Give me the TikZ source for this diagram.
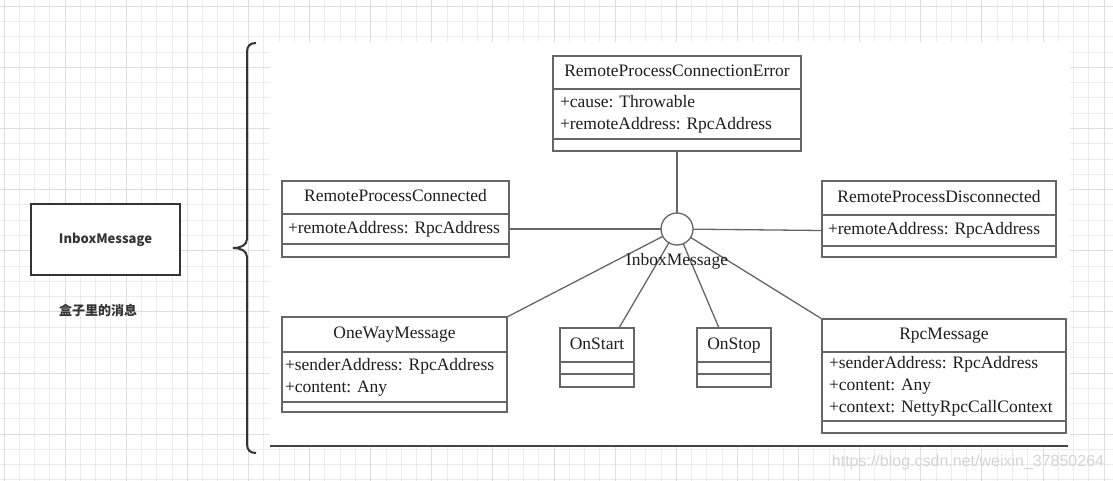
\documentclass[tikz,border=0pt]{standalone}
\usepackage{fontspec}
\setmainfont{Liberation Serif}
\newfontfamily\cjk{Noto Sans CJK SC}
\newfontfamily\markfont{Liberation Sans}
\usepackage{tikz}
\newcommand{\umlfont}{\fontsize{17.5}{22}\selectfont\frenchspacing\hyphenpenalty=10000 }

\begin{document}
\begin{tikzpicture}[x=1pt,y=1pt,yscale=-1,xscale=1,
  gridline/.style={color={rgb, 255:red, 236; green, 236; blue, 236}, line width=1},
  gridmajor/.style={color={rgb, 255:red, 222; green, 222; blue, 222}, line width=1},
  umlline/.style={color={rgb, 255:red, 102; green, 102; blue, 102}, line width=1.3},
  classhead/.style={draw={rgb, 255:red, 102; green, 102; blue, 102}, line width=1.3, fill=white, outer sep=0pt, inner sep=0pt, anchor=north west, text={rgb, 255:red, 30; green, 30; blue, 30}, font=\umlfont},
  classtitle/.style={classhead, text height=12.5pt, text depth=4pt},
  classattr/.style={classhead, align=left, inner xsep=7pt}
  ]
\useasboundingbox (0,0) rectangle (1113,481);

%Grid
\foreach \i in {0,...,72} \draw [gridline] (4+15.28*\i,0) -- (4+15.28*\i,481) ;
\foreach \i in {0,...,31} \draw [gridline] (0,6.3+15.28*\i) -- (1113,6.3+15.28*\i) ;
\foreach \i in {0,4,...,72} \draw [gridmajor] (4+15.28*\i,0) -- (4+15.28*\i,481) ;
\foreach \i in {0,4,...,28} \draw [gridmajor] (0,6.3+15.28*\i) -- (1113,6.3+15.28*\i) ;

%White sheet
\fill [white] (270,42) rectangle (1070,446) ;
\draw [color={rgb, 255:red, 68; green, 68; blue, 68}, line width=2] (270,446) -- (1068,446) ;

%Brace
\draw [color={rgb, 255:red, 51; green, 51; blue, 51}, line width=2] (256,43) .. controls (250,43) and (247,46) .. (247,52) -- (247,239) .. controls (247,245) and (241,248) .. (233,248) .. controls (241,248) and (247,251) .. (247,257) -- (247,444) .. controls (247,450) and (250,453) .. (256,453) ;

%Left box
\node [draw={rgb, 255:red, 51; green, 51; blue, 51}, line width=2, fill=white, minimum width=149pt, minimum height=71pt, inner sep=0pt, font=\cjk\bfseries\fontsize{13}{15}\selectfont, text={rgb, 255:red, 51; green, 51; blue, 51}] (inbox) at (105.5,239.5) {InboxMessage};
\node [font=\cjk\bfseries\fontsize{13}{15}\selectfont, text={rgb, 255:red, 51; green, 51; blue, 51}] (inboxnote) at (98,310) {盒子里的消息};

%Class RemoteProcessConnectionError
\node [classtitle, minimum width=248pt, minimum height=33pt] (errH) at (553,56) {RemoteProcessConnectionError};
\node [classattr, text width=234pt, minimum height=50pt] (errA) at (errH.south west) {+cause: Throwable\\+remoteAddress: RpcAddress};
\node [classhead, minimum width=248pt, minimum height=12pt] (errO) at (errA.south west) {};

%Class RemoteProcessConnected
\node [classtitle, minimum width=227pt, minimum height=33pt] (connH) at (282,181) {RemoteProcessConnected};
\node [classattr, inner xsep=6pt, text width=215pt, minimum height=30pt] (connA) at (connH.south west) {+remoteAddress: RpcAddress};
\node [classhead, minimum width=227pt, minimum height=13pt] (connO) at (connA.south west) {};

%Class RemoteProcessDisconnected
\node [classtitle, minimum width=234pt, minimum height=34pt] (discH) at (822,181) {RemoteProcessDisconnected};
\node [classattr, inner xsep=6pt, text width=222pt, minimum height=31pt] (discA) at (discH.south west) {+remoteAddress: RpcAddress};
\node [classhead, minimum width=234pt, minimum height=11pt] (discO) at (discA.south west) {};

%Class OneWayMessage
\node [classtitle, minimum width=225pt, minimum height=35pt] (oneH) at (282,317) {OneWayMessage};
\node [classattr, inner xsep=3pt, text width=219pt, minimum height=50pt] (oneA) at (oneH.south west) {+senderAddress: RpcAddress\\+content: Any};
\node [classhead, minimum width=225pt, minimum height=10pt] (oneO) at (oneA.south west) {};

%Class OnStart
\node [classtitle, minimum width=74pt, minimum height=34pt] (startH) at (560,328) {OnStart};
\node [classhead, minimum width=74pt, minimum height=12pt] (startA) at (startH.south west) {};
\node [classhead, minimum width=74pt, minimum height=13pt] (startO) at (startA.south west) {};

%Class OnStop
\node [classtitle, minimum width=74pt, minimum height=34pt] (stopH) at (697,328) {OnStop};
\node [classhead, minimum width=74pt, minimum height=12pt] (stopA) at (stopH.south west) {};
\node [classhead, minimum width=74pt, minimum height=13pt] (stopO) at (stopA.south west) {};

%Class RpcMessage
\node [classtitle, minimum width=244pt, minimum height=33pt] (rpcH) at (822,319) {RpcMessage};
\node [classattr, text width=230pt, minimum height=69pt] (rpcA) at (rpcH.south west) {+senderAddress: RpcAddress\\+content: Any\\+context: NettyRpcCallContext};
\node [classhead, minimum width=244pt, minimum height=12pt] (rpcO) at (rpcA.south west) {};

%Interface InboxMessage
\node [circle, draw={rgb, 255:red, 102; green, 102; blue, 102}, line width=1.3, fill=white, minimum size=32pt, inner sep=0pt, outer sep=0pt] (iface) at (677,229) {};

%Straight Lines
\draw [umlline] (iface) -- (errO.south) ;
\draw [umlline] (iface) -- (connA.east) ;
\draw [umlline] (iface) -- (discA.west) ;
\draw [umlline] (iface) -- (oneH.north east) ;
\draw [umlline] (iface) -- ([xshift=22pt]startH.north) ;
\draw [umlline] (iface) -- ([xshift=-15pt]stopH.north) ;
\draw [umlline] (iface) -- (rpcH.north west) ;

\node [font=\umlfont, text={rgb, 255:red, 30; green, 30; blue, 30}] (ifacelabel) at (677,261) {InboxMessage};

%Watermark
\node [font=\markfont\fontsize{16}{18}\selectfont, text={rgb, 255:red, 212; green, 212; blue, 212}] (wmark) at (968,462) {https://blog.csdn.net/weixin\_37850264};

\end{tikzpicture}
\end{document}
